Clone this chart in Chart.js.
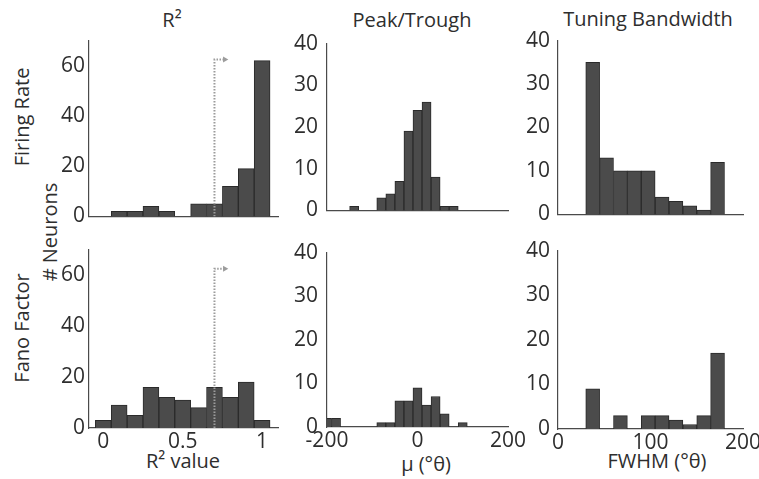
<!DOCTYPE html>
<html>
<head>
<meta charset="utf-8">
<script src="https://cdn.jsdelivr.net/npm/chart.js@4.4.1/dist/chart.umd.min.js"></script>
<style>
  body { margin: 0; background: #fff; }
  #fig { position: relative; width: 759px; height: 479px; overflow: hidden; font-family: "Open Sans", sans-serif; color: #2e2e2e; }
  #fig canvas { position: absolute; }
  .lbl { position: absolute; font-size: 20px; line-height: 1; white-space: nowrap; transform: translate(-50%, -50%); }
  .rot { transform: translate(-50%, -50%) rotate(-90deg); }
</style>
</head>
<body>
<div id="fig">
  <div class="lbl" style="left:172px; top:20px;">R²</div>
  <div class="lbl" style="left:412px; top:20px;">Peak/Trough</div>
  <div class="lbl" style="left:648px; top:19px;">Tuning Bandwidth</div>
  <div class="lbl rot" style="left:22px; top:117px;">Firing Rate</div>
  <div class="lbl rot" style="left:22px; top:328px;">Fano Factor</div>
  <div class="lbl rot" style="left:50px; top:232px;"># Neurons</div>
  <div class="lbl" style="left:183px; top:461px;">R² value</div>
  <div class="lbl" style="left:426px; top:464px;">μ (°θ)</div>
  <div class="lbl" style="left:657px; top:461px;">FWHM (°θ)</div>
</div>
<script>
// bin centres and counts
const r2Bins = [0, 0.1, 0.2, 0.3, 0.4, 0.5, 0.6, 0.7, 0.8, 0.9, 1.0];
const r2Firing = [0, 2, 2, 4, 2, 0, 5, 5, 12, 19, 62];
const r2Fano = [3, 9, 5, 16, 12, 11, 8, 16, 12, 18, 3];

const ptBins = [-200, -180, -160, -140, -120, -100, -80, -60, -40, -20, 0, 20, 40, 60, 80, 100];
const ptFiring = [0, 0, 0, 1, 0, 0, 3, 4, 7, 19, 24, 26, 8, 1, 1, 0];
const ptFano = [2, 2, 0, 0, 0, 0, 1, 1, 6, 6, 9, 5, 7, 3, 0, 1];

const bwBins = [37.5, 52.5, 67.5, 82.5, 97.5, 112.5, 127.5, 142.5, 157.5, 172.5];
const bwFiring = [35, 13, 10, 10, 10, 4, 3, 2, 1, 12];
const bwFano = [9, 0, 3, 0, 3, 3, 2, 1, 3, 17];

// R² threshold marker (dotted line with arrow)
const thrX = [0.7, 0.7, 0.765];
const thrY = [0, 62.5, 62.5];

const r2Ticks = [0, 0.5, 1];
const ptTicks = [-200, 0, 200];
const bwTicks = [0, 100, 200];
const r2CountTicks = [0, 20, 40, 60];
const countTicks = [0, 10, 20, 30, 40];

const barFill = '#4b4b4b';
const barEdge = '#2a2a2a';
const axisColor = '#4a4a4a';
const textColor = '#2e2e2e';
const tickFont = { family: 'Open Sans', size: 21 };

const fig = document.getElementById('fig');

function makePanel(box, bins, counts, xRange, xTicks, yMax, yTicks, showX, yPad, withThr) {
  const yw = 54, pt = 14, pr = 28;
  const xh = showX ? 34 : 14;
  const cv = document.createElement('canvas');
  cv.width = yw + (box.r - box.l) + pr;
  cv.height = pt + (box.b - box.t) + xh;
  cv.style.left = (box.l - yw) + 'px';
  cv.style.top = (box.t - pt) + 'px';
  fig.appendChild(cv);

  const datasets = [{
    type: 'bar',
    order: 1,
    data: bins.map((b, i) => ({ x: b, y: counts[i] })),
    backgroundColor: barFill,
    borderColor: barEdge,
    borderWidth: 1,
    barPercentage: 1,
    categoryPercentage: 1
  }];
  if (withThr) {
    datasets.push({
      type: 'line',
      order: 0,
      data: thrX.map((x, i) => ({ x: x, y: thrY[i] })),
      borderColor: '#9c9c9c',
      borderWidth: 2,
      borderDash: [1.5, 1.5],
      pointRadius: [0, 0, 3.5],
      pointStyle: 'triangle',
      rotation: 90,
      pointBackgroundColor: '#9c9c9c',
      pointBorderWidth: 0,
      fill: false,
      tension: 0
    });
  }

  new Chart(cv, {
    type: 'bar',
    data: { datasets: datasets },
    options: {
      responsive: false,
      animation: false,
      events: [],
      layout: { padding: { top: pt, right: pr } },
      plugins: { legend: { display: false }, tooltip: { enabled: false } },
      scales: {
        x: {
          type: 'linear',
          offset: false,
          min: xRange[0],
          max: xRange[1],
          afterBuildTicks: s => { s.ticks = xTicks.map(v => ({ value: v })); },
          afterFit: s => { s.height = xh; },
          ticks: { display: showX, font: tickFont, color: textColor, padding: 1, maxRotation: 0, autoSkip: false, callback: v => String(v) },
          grid: { display: false, drawTicks: false },
          border: { color: axisColor, width: 1.2 }
        },
        y: {
          min: 0,
          max: yMax,
          afterBuildTicks: s => { s.ticks = yTicks.map(v => ({ value: v })); },
          afterFit: s => { s.width = yw; },
          ticks: { font: tickFont, color: textColor, padding: yPad, callback: v => String(v) },
          grid: { display: false, drawTicks: false },
          border: { color: axisColor, width: 1.2 }
        }
      }
    }
  });
}

makePanel({ l: 89, t: 38, r: 278, b: 219 }, r2Bins, r2Firing, [-0.09, 1.1], r2Ticks, 70, r2CountTicks, false, 4, true);
makePanel({ l: 327, t: 36, r: 508, b: 218 }, ptBins, ptFiring, [-200, 200], ptTicks, 40, countTicks, false, 9, false);
makePanel({ l: 558, t: 34, r: 743, b: 221 }, bwBins, bwFiring, [0, 200], bwTicks, 40, countTicks, false, 8, false);
makePanel({ l: 89, t: 247, r: 278, b: 428 }, r2Bins, r2Fano, [-0.09, 1.1], r2Ticks, 70, r2CountTicks, true, 4, true);
makePanel({ l: 327, t: 245, r: 508, b: 427 }, ptBins, ptFano, [-200, 200], ptTicks, 40, countTicks, true, 9, false);
makePanel({ l: 558, t: 244, r: 743, b: 429 }, bwBins, bwFano, [0, 200], bwTicks, 40, countTicks, true, 8, false);
</script>
</body>
</html>
